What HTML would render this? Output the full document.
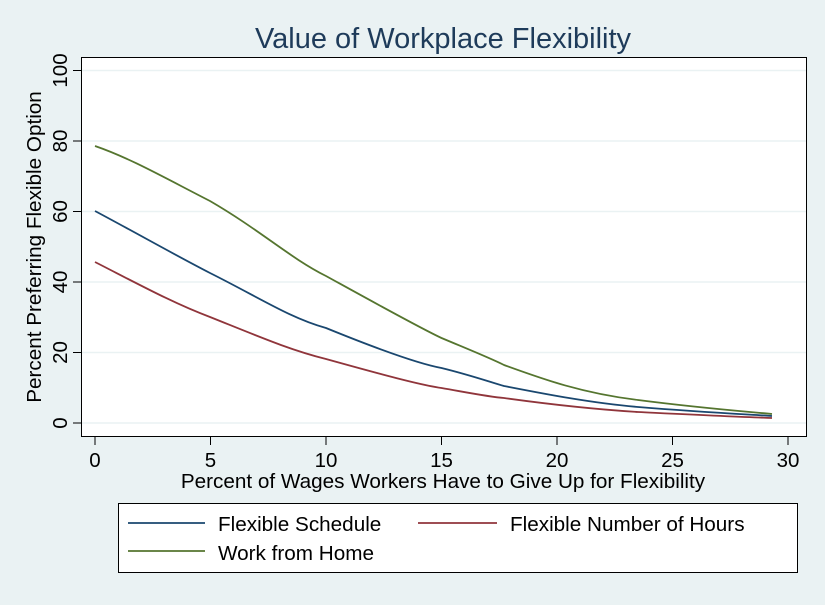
<!DOCTYPE html>
<html><head><style>body{margin:0;background:#eaf2f3}</style></head><body>
<svg width="825" height="600" xmlns="http://www.w3.org/2000/svg" font-family="Liberation Sans, sans-serif">
<rect width="825" height="600" fill="#eaf2f3"/>
<text x="443" y="48" font-size="29" text-anchor="middle" fill="#1e3b5a">Value of Workplace Flexibility</text>
<rect x="81.5" y="57.5" width="725" height="379" fill="#fff" stroke="#000" stroke-width="1"/>
<g stroke="#eaf2f3" stroke-width="1.5">
<line x1="82" x2="806" y1="70.5" y2="70.5"/><line x1="82" x2="806" y1="141" y2="141"/><line x1="82" x2="806" y1="211.5" y2="211.5"/><line x1="82" x2="806" y1="282" y2="282"/><line x1="82" x2="806" y1="352.5" y2="352.5"/><line x1="82" x2="806" y1="423" y2="423"/>
</g>
<g stroke="#000" stroke-width="1">
<line x1="73" x2="81" y1="70.5" y2="70.5"/><line x1="73" x2="81" y1="141" y2="141"/><line x1="73" x2="81" y1="211.5" y2="211.5"/><line x1="73" x2="81" y1="282" y2="282"/><line x1="73" x2="81" y1="352.5" y2="352.5"/><line x1="73" x2="81" y1="423" y2="423"/>
<line x1="95" x2="95" y1="437" y2="445"/><line x1="210.5" x2="210.5" y1="437" y2="445"/><line x1="326" x2="326" y1="437" y2="445"/><line x1="441.5" x2="441.5" y1="437" y2="445"/><line x1="557" x2="557" y1="437" y2="445"/><line x1="672.5" x2="672.5" y1="437" y2="445"/><line x1="788" x2="788" y1="437" y2="445"/>
</g>
<g font-size="20.5" text-anchor="middle">
<text transform="translate(67,70.5) rotate(-90)">100</text>
<text transform="translate(67,141) rotate(-90)">80</text>
<text transform="translate(67,211.5) rotate(-90)">60</text>
<text transform="translate(67,282) rotate(-90)">40</text>
<text transform="translate(67,352.5) rotate(-90)">20</text>
<text transform="translate(67,423) rotate(-90)">0</text>
<text x="95" y="467">0</text><text x="210.5" y="467">5</text><text x="326" y="467">10</text><text x="441.5" y="467">15</text><text x="557" y="467">20</text><text x="672.5" y="467">25</text><text x="788" y="467">30</text>
<text x="443" y="488" font-size="20.7">Percent of Wages Workers Have to Give Up for Flexibility</text>
<text transform="translate(41,247) rotate(-90)" font-size="20.7">Percent Preferring Flexible Option</text>
</g>
<g fill="none" stroke-width="1.8">
<path stroke="#55752f" d="M95,146 C130,158 165,178 210,201 C260,230 290,258 326,276 C375,303 420,328 441.5,338 C470,350 490,358 504,365 C540,378 580,393 638,400 C700,408 740,411 772,414"/>
<path stroke="#1a476f" d="M95,211 C140,235 175,255 210,273 C260,298 290,318 326,328 C380,350 420,364 441.5,368 C470,375 490,382 504,386 C540,393 590,403 638,407 C700,412 740,414 772,416"/>
<path stroke="#90353b" d="M95,262 C140,285 175,304 210,317 C260,337 290,350 326,359 C380,374 420,385 441.5,388 C470,393 490,397 504,398 C540,403 590,409 638,412 C700,415 740,417 772,418"/>
</g>
<rect x="118.5" y="503.5" width="679" height="69" fill="#fff" stroke="#000"/>
<g stroke-width="1.8">
<line x1="128" x2="205" y1="523" y2="523" stroke="#1a476f"/>
<line x1="418" x2="497" y1="523" y2="523" stroke="#90353b"/>
<line x1="128" x2="205" y1="551" y2="551" stroke="#55752f"/>
</g>
<g font-size="20.7">
<text x="218" y="531">Flexible Schedule</text>
<text x="510" y="531">Flexible Number of Hours</text>
<text x="218" y="560">Work from Home</text>
</g>
</svg>
</body></html>
